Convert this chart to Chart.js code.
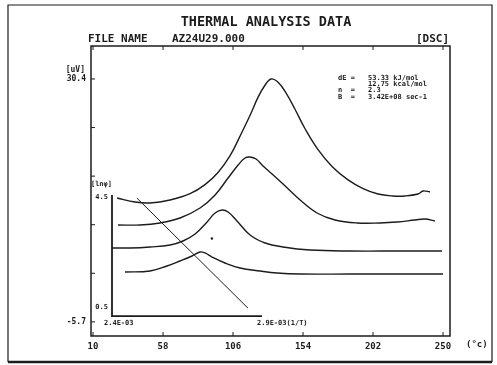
<!DOCTYPE html>
<html>
<head>
<meta charset="utf-8">
<script src="https://cdn.jsdelivr.net/npm/chart.js@4"></script>
<style>
  body { margin: 0; background: #fff; }
</style>
</head>
<body>
<canvas id="chart" width="497" height="365"></canvas>
<script>
//DSC curves, temperature (C) and signal (uV)
const curve1T = [26.5, 38.8, 49.1, 62.8, 76.5, 86.8, 95.7, 104.0, 110.8, 117.7, 123.2, 128.0, 132.1, 136.9, 142.4, 148.5, 155.4, 164.3, 173.9, 184.9, 195.2, 205.4, 215.7, 224.0, 232.9, 236.3, 241.1];
const curve1V = [12.71, 12.11, 11.97, 12.41, 13.35, 14.70, 16.50, 19.00, 21.90, 25.00, 27.70, 29.50, 30.40, 29.90, 28.30, 25.90, 23.00, 19.90, 17.40, 15.40, 14.10, 13.30, 13.01, 13.01, 13.30, 13.75, 13.60];

const curve2T = [27.1, 42.2, 55.9, 69.7, 83.4, 93.7, 102.6, 109.5, 114.2, 117.7, 121.8, 126.6, 132.8, 140.3, 152.0, 163.6, 176.0, 191.0, 206.8, 218.5, 230.8, 237.7, 244.5];
const curve2V = [8.70, 8.70, 9.00, 9.74, 11.22, 13.16, 15.68, 17.61, 18.65, 18.80, 18.50, 17.47, 16.28, 14.79, 12.41, 10.48, 9.44, 9.00, 9.00, 9.14, 9.44, 9.59, 9.29];

const curve3T = [23.0, 35.4, 49.1, 62.8, 71.7, 80.0, 88.2, 93.7, 98.5, 102.6, 108.1, 117.7, 128.0, 140.3, 158.8, 186.3, 220.6, 249.3];
const curve3V = [5.28, 5.28, 5.43, 5.72, 6.32, 7.36, 9.14, 10.48, 10.93, 10.63, 9.44, 7.21, 6.02, 5.43, 4.98, 4.83, 4.83, 4.83];

const curve4T = [31.9, 49.1, 60.7, 69.7, 77.9, 83.4, 86.8, 91.6, 100.5, 110.8, 124.5, 136.2, 152.0, 186.3, 220.6, 250.0];
const curve4V = [1.71, 1.86, 2.60, 3.35, 4.09, 4.68, 4.54, 3.94, 3.05, 2.31, 1.86, 1.56, 1.41, 1.41, 1.41, 1.41];

//Inset: ln(phi) against 1/T
const fitInvT = [0.002483, 0.002853];
const fitLnPhi = [4.46, 0.46];
const pointInvT = [0.002733];
const pointLnPhi = [2.99];

//Tick labels
const xTickValues = [10, 58, 106, 154, 202, 250];
const yTickValues = [-5.7, 30.4];
const insetXTicks = [0.0024, 0.0029];
const insetYTicks = [0.5, 4.5];
const insetXLabels = ["2.4E-03", "2.9E-03(1/T)"];
const insetYLabels = ["0.5", "4.5"];

const notes = [
  ["dE =", "53.33 kJ/mol"],
  ["", "12.75 kcal/mol"],
  ["n  =", "2.3"],
  ["B  =", "3.42E+08 sec-1"],
];

const mono = "'DejaVu Sans Mono', monospace";
const ink = "#1c1c1c";

const toPts = (xs, ys) => xs.map((x, i) => ({ x: x, y: ys[i] }));

const curveStyle = {
  borderColor: ink,
  borderWidth: 1.4,
  pointRadius: 0,
  tension: 0.4,
  xAxisID: "x",
  yAxisID: "y",
};

//Frame, tick marks, inset axes and all the printed texts
const printout = {
  id: "printout",
  afterDraw(chart) {
    const ctx = chart.ctx;
    const a = chart.chartArea;
    const sx = chart.scales.x, sy = chart.scales.y;
    const ix = chart.scales.x2, iy = chart.scales.y2;
    ctx.save();
    ctx.strokeStyle = ink;
    ctx.fillStyle = ink;

    //outer page border
    ctx.lineWidth = 1.2;
    ctx.beginPath();
    ctx.moveTo(8, 362); ctx.lineTo(8, 5); ctx.lineTo(492, 5); ctx.lineTo(492, 362);
    ctx.stroke();
    ctx.lineWidth = 2.5;
    ctx.beginPath();
    ctx.moveTo(8, 362); ctx.lineTo(492, 362);
    ctx.stroke();

    //plot box
    ctx.lineWidth = 1.5;
    ctx.strokeRect(a.left, a.top, a.right - a.left, a.bottom - a.top);

    ctx.lineWidth = 1;
    ctx.beginPath();
    xTickValues.forEach((v) => {
      const px = sx.getPixelForValue(v);
      ctx.moveTo(px, a.bottom); ctx.lineTo(px, a.bottom - 4);
      ctx.moveTo(px, a.top); ctx.lineTo(px, a.top + 4);
    });
    for (let i = 0; i <= 5; i++) {
      const v = yTickValues[0] + (yTickValues[1] - yTickValues[0]) * i / 5;
      const py = sy.getPixelForValue(v);
      ctx.moveTo(a.left, py); ctx.lineTo(a.left + 4, py);
    }
    ctx.stroke();

    //inset axes
    const ix0 = ix.getPixelForValue(insetXTicks[0]);
    const ix1 = ix.getPixelForValue(insetXTicks[1]);
    const iyTop = iy.getPixelForValue(4.57);
    const iyBot = iy.getPixelForValue(0.17);
    ctx.lineWidth = 1.8;
    ctx.beginPath();
    ctx.moveTo(ix0, iyTop); ctx.lineTo(ix0, iyBot); ctx.lineTo(ix1, iyBot);
    ctx.stroke();

    //titles
    ctx.textBaseline = "middle";
    ctx.textAlign = "center";
    ctx.font = "bold 13.5px " + mono;
    ctx.fillText("THERMAL ANALYSIS DATA", 266, 22);
    ctx.textAlign = "left";
    ctx.font = "bold 11px " + mono;
    ctx.fillText("FILE NAME", 88, 39);
    ctx.fillText("AZ24U29.000", 172, 39);
    ctx.textAlign = "right";
    ctx.fillText("[DSC]", 449, 39);

    ctx.font = "bold 8px " + mono;
    ctx.fillText("[uV]", 85, 70);
    ctx.textAlign = "left";
    ctx.font = "bold 9px " + mono;
    ctx.fillText("(\u00b0c)", 466, 345);

    //heat parameters
    ctx.font = "bold 7px " + mono;
    notes.forEach((row, i) => {
      const py = 78 + i * 6.3;
      ctx.textAlign = "left";
      ctx.fillText(row[0], 338, py);
      ctx.fillText(row[1], 368, py);
    });

    //inset labels
    ctx.font = "bold 7px " + mono;
    ctx.textAlign = "right";
    insetYTicks.forEach((v, i) => {
      ctx.fillText(insetYLabels[i], ix0 - 4, iy.getPixelForValue(v));
    });
    ctx.fillText("[ln\u03c6]", ix0, 184);
    ctx.textAlign = "left";
    ctx.fillText(insetXLabels[0], ix0 - 8, 323);
    ctx.fillText(insetXLabels[1], ix1 - 5, 323);
    ctx.restore();
  },
};

new Chart(document.getElementById("chart"), {
  type: "line",
  plugins: [printout],
  data: {
    datasets: [
      Object.assign({ data: toPts(curve1T, curve1V) }, curveStyle),
      Object.assign({ data: toPts(curve2T, curve2V) }, curveStyle),
      Object.assign({ data: toPts(curve3T, curve3V) }, curveStyle),
      Object.assign({ data: toPts(curve4T, curve4V) }, curveStyle),
      {
        data: toPts(fitInvT, fitLnPhi),
        borderColor: ink,
        borderWidth: 1,
        pointRadius: 0,
        tension: 0,
        xAxisID: "x2",
        yAxisID: "y2",
      },
      {
        data: toPts(pointInvT, pointLnPhi),
        showLine: false,
        pointRadius: 1.2,
        pointBorderWidth: 0,
        pointBackgroundColor: ink,
        xAxisID: "x2",
        yAxisID: "y2",
      },
    ],
  },
  options: {
    responsive: false,
    animation: false,
    layout: { padding: { top: 46, right: 47, left: 0, bottom: 0 } },
    plugins: {
      legend: { display: false },
      tooltip: { enabled: false },
    },
    scales: {
      x: {
        type: "linear",
        position: "bottom",
        min: 8.6,
        max: 254.8,
        afterBuildTicks: (s) => { s.ticks = xTickValues.map((v) => ({ value: v })); },
        afterFit: (s) => { s.height = 29; },
        grid: { display: false, drawTicks: false },
        border: { display: false },
        ticks: {
          font: { family: mono, size: 9, weight: "bold" },
          color: ink,
          padding: 5,
          maxRotation: 0,
          autoSkip: false,
        },
      },
      y: {
        type: "linear",
        position: "left",
        min: -7.8,
        max: 35.3,
        afterBuildTicks: (s) => { s.ticks = yTickValues.map((v) => ({ value: v })); },
        afterFit: (s) => { s.width = 91; },
        grid: { display: false, drawTicks: false },
        border: { display: false },
        ticks: {
          font: { family: mono, size: 8, weight: "bold" },
          color: ink,
          padding: 5,
          autoSkip: false,
          callback: (v) => v.toFixed(1),
        },
      },
      x2: { type: "linear", display: false, min: 0.00233, max: 0.0035267 },
      y2: { type: "linear", display: false, min: -0.5545, max: 9.991 },
    },
  },
});
</script>
</body>
</html>
